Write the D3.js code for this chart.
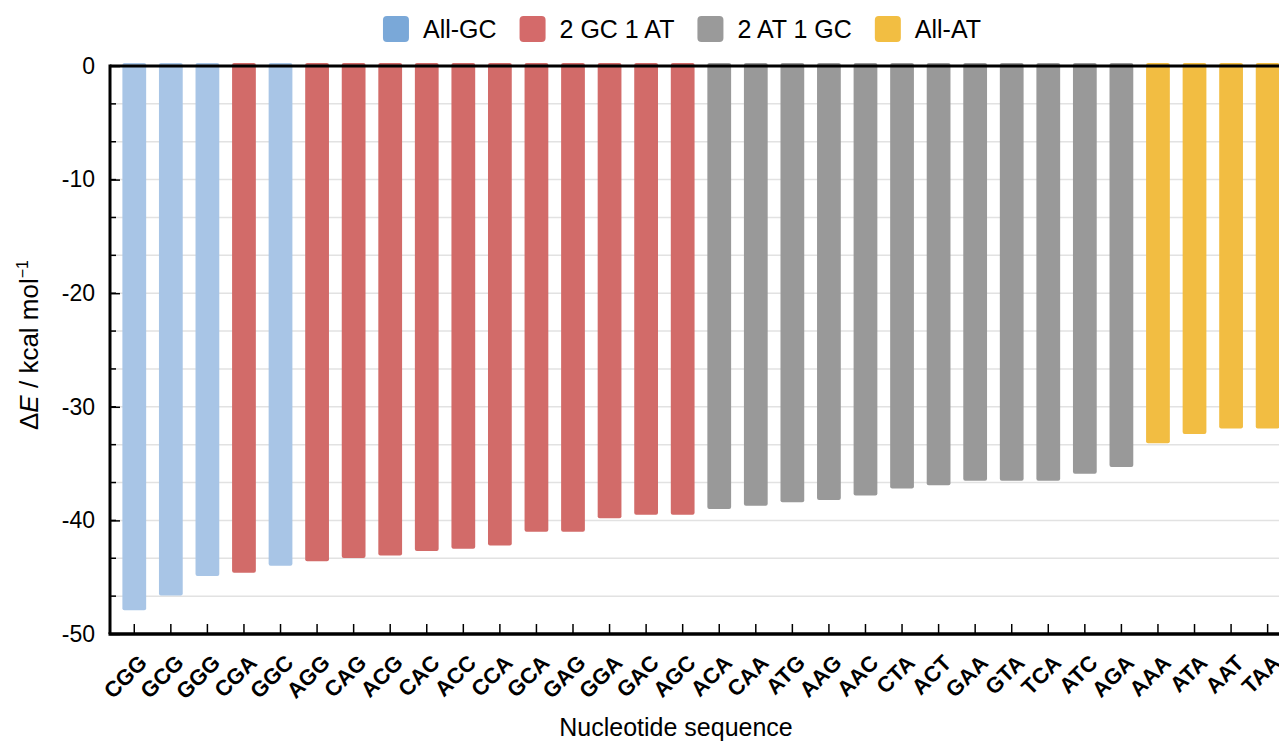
<!DOCTYPE html>
<html>
<head>
<meta charset="utf-8">
<script src="https://cdnjs.cloudflare.com/ajax/libs/d3/7.8.5/d3.min.js"></script>
<style>
  body { margin: 0; background: #fff; }
  text { font-family: "Liberation Sans", Arial, Helvetica, sans-serif; fill: #000; }
</style>
</head>
<body>
<script>
// data
var sequences = ['CGG','GCG','GGG','CGA','GGC','AGG','CAG','ACG','CAC','ACC','CCA','GCA','GAG','GGA','GAC','AGC',
                 'ACA','CAA','ATG','AAG','AAC','CTA','ACT','GAA','GTA','TCA','ATC','AGA','AAA','ATA','AAT','TAA'];
var energies = [-47.9,-46.6,-44.9,-44.6,-44.0,-43.6,-43.3,-43.1,-42.7,-42.5,-42.2,-41.0,-41.0,-39.8,-39.5,-39.5,
                -39.0,-38.7,-38.4,-38.2,-37.8,-37.2,-36.9,-36.5,-36.5,-36.5,-35.9,-35.3,-33.2,-32.4,-31.9,-31.9];
var groups = ['All-GC','All-GC','All-GC','2 GC 1 AT','All-GC','2 GC 1 AT','2 GC 1 AT','2 GC 1 AT','2 GC 1 AT','2 GC 1 AT',
              '2 GC 1 AT','2 GC 1 AT','2 GC 1 AT','2 GC 1 AT','2 GC 1 AT','2 GC 1 AT',
              '2 AT 1 GC','2 AT 1 GC','2 AT 1 GC','2 AT 1 GC','2 AT 1 GC','2 AT 1 GC','2 AT 1 GC','2 AT 1 GC',
              '2 AT 1 GC','2 AT 1 GC','2 AT 1 GC','2 AT 1 GC','All-AT','All-AT','All-AT','All-AT'];
var groupNames = ['All-GC','2 GC 1 AT','2 AT 1 GC','All-AT'];
var yTicks = [0, -10, -20, -30, -40, -50];

var barColor = {'All-GC': '#a8c5e6', '2 GC 1 AT': '#d26b69', '2 AT 1 GC': '#999999', 'All-AT': '#f2bd42'};
var legendColor = {'All-GC': '#7aa8d8', '2 GC 1 AT': '#d46a6a', '2 AT 1 GC': '#9a9a9a', 'All-AT': '#f2be42'};

var width = 1279, height = 742;
var plotLeft = 110, plotTop = 66, plotBottom = 634;

var dataset = sequences.map(function(s, i){
    return { seq: s, value: energies[i], group: groups[i] };
});

var svg = d3.select('body').append('svg')
    .attr('width', width)
    .attr('height', height);

var xScale = d3.scaleBand()
    .domain(sequences)
    .range([116, 116 + 32 * 36.56])
    .paddingInner(0.35)
    .paddingOuter(0.175);

var yScale = d3.scaleLinear()
    .domain([0, -50])
    .range([plotTop, plotBottom]);

// grid lines every 10/3
var gridVals = d3.range(1, 15).map(function(i){ return -i * 10 / 3; });
svg.append('g').selectAll('line')
    .data(gridVals)
    .enter().append('line')
    .attr('x1', plotLeft).attr('x2', width)
    .attr('y1', function(d){ return yScale(d); })
    .attr('y2', function(d){ return yScale(d); })
    .attr('stroke', '#e2e2e2')
    .attr('stroke-width', 1.5);

// bars
svg.append('g').selectAll('rect')
    .data(dataset)
    .enter().append('rect')
    .attr('x', function(d){ return xScale(d.seq); })
    .attr('y', yScale(0) - 3)
    .attr('width', xScale.bandwidth())
    .attr('height', function(d){ return yScale(d.value) - yScale(0) + 3; })
    .attr('rx', 2)
    .attr('fill', function(d){ return barColor[d.group]; });

// minor y ticks
svg.append('g').selectAll('line')
    .data(gridVals)
    .enter().append('line')
    .attr('x1', plotLeft).attr('x2', plotLeft + 6)
    .attr('y1', function(d){ return yScale(d); })
    .attr('y2', function(d){ return yScale(d); })
    .attr('stroke', '#000').attr('stroke-width', 1.5);

// y axis (hyphen minus like the original)
var yAxis = d3.axisLeft(yScale)
    .tickValues(yTicks)
    .tickSize(-10)
    .tickFormat(function(d){ return String(d); });

var yG = svg.append('g')
    .attr('transform', 'translate(' + plotLeft + ',0)')
    .call(yAxis);
yG.select('.domain').remove();
yG.selectAll('.tick line').attr('stroke-width', 1.5);
yG.selectAll('.tick text')
    .attr('x', -15)
    .style('font-size', '23px')
    .style('font-family', '"Liberation Sans", Arial, sans-serif');

// x axis
var xAxis = d3.axisBottom(xScale).tickSize(-10).tickSizeOuter(0);
var xG = svg.append('g')
    .attr('transform', 'translate(0,' + plotBottom + ')')
    .call(xAxis);
xG.select('.domain').remove();
xG.selectAll('.tick line').attr('stroke-width', 1.5);
xG.selectAll('.tick text')
    .attr('y', 0)
    .attr('transform', 'translate(3,19) rotate(-45)')
    .attr('dy', '0.72em')
    .style('text-anchor', 'end')
    .style('font-size', '22px')
    .style('font-weight', 'bold')
    .style('font-family', '"Liberation Sans", Arial, sans-serif');

// frame lines
svg.append('line').attr('x1', plotLeft).attr('x2', width).attr('y1', plotTop).attr('y2', plotTop)
    .attr('stroke', '#000').attr('stroke-width', 3);
svg.append('line').attr('x1', plotLeft - 1.5).attr('x2', width).attr('y1', plotBottom).attr('y2', plotBottom)
    .attr('stroke', '#000').attr('stroke-width', 3.5);
svg.append('line').attr('x1', plotLeft).attr('x2', plotLeft).attr('y1', plotTop - 1.5).attr('y2', plotBottom)
    .attr('stroke', '#000').attr('stroke-width', 3);

// axis titles
svg.append('text')
    .attr('x', 676).attr('y', 736)
    .attr('text-anchor', 'middle')
    .style('font-size', '25px')
    .text('Nucleotide sequence');

var yt = svg.append('text')
    .attr('transform', 'translate(38,345) rotate(-90)')
    .attr('text-anchor', 'middle')
    .style('font-size', '26px');
yt.append('tspan').text('\u0394');
yt.append('tspan').style('font-style', 'italic').text('E');
yt.append('tspan').text(' / kcal mol');
yt.append('tspan').attr('dy', -10).style('font-size', '16px').text('\u22121');

// legend
var legend = svg.append('g');
var xPos = 0;
groupNames.forEach(function(g){
    var item = legend.append('g').attr('transform', 'translate(' + xPos + ',0)');
    item.append('rect')
        .attr('x', 0).attr('y', 16)
        .attr('width', 26).attr('height', 26)
        .attr('rx', 4)
        .attr('fill', legendColor[g]);
    var t = item.append('text')
        .attr('x', 40).attr('y', 38)
        .style('font-size', '25px')
        .text(g);
    xPos += 40 + t.node().getComputedTextLength() + 23;
});
var legendW = xPos - 23;
legend.attr('transform', 'translate(' + (682 - legendW / 2) + ',0)');
</script>
</body>
</html>
